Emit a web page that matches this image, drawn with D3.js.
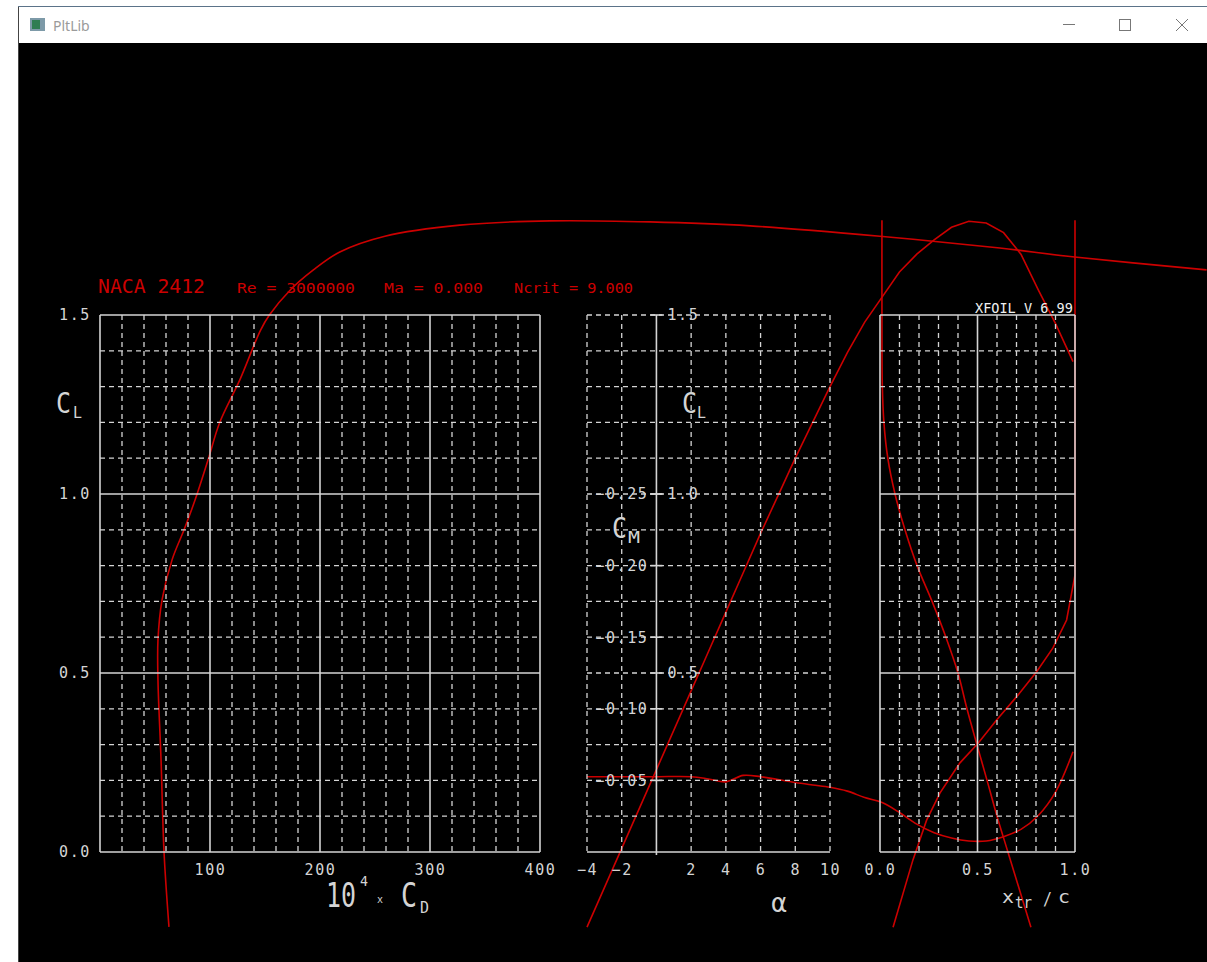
<!DOCTYPE html>
<html lang="en">
<head>
<meta charset="UTF-8">
<title>PltLib</title>
<style>
  body { margin: 0; background: #fff; }
  svg { display: block; }
  text { font-family: "DejaVu Sans Mono", monospace; }
</style>
</head>
<body>
<div id="plot"></div>
<script src="https://d3js.org/d3.v7.min.js"></script>
<script>
// drag polar: 10^4 x CD against CL
const polarCd = [62.7, 58.2, 55.5, 52.7, 52.7, 56.4, 65.5, 76.4, 86.4, 98.2, 109, 127, 146, 154, 173, 194, 218, 259, 327, 409, 500, 591, 709, 818, 886, 1006];
const polarCl = [-0.209, 0, 0.257, 0.48, 0.592, 0.704, 0.816, 0.9, 0.983, 1.095, 1.201, 1.318, 1.458, 1.5, 1.57, 1.626, 1.676, 1.72, 1.751, 1.763, 1.76, 1.749, 1.72, 1.687, 1.662, 1.626];

// lift and moment against alpha
const alphaDeg = [-4, -2, 0, 2, 3, 4, 5, 6, 7, 8, 9, 10, 11, 12, 13, 14, 15, 16, 17, 18, 19, 20, 21, 22, 23, 24];
const clAlpha = [-0.21, 0.01, 0.23, 0.45, 0.56, 0.67, 0.78, 0.89, 0.995, 1.10, 1.20, 1.30, 1.395, 1.48, 1.55, 1.62, 1.67, 1.71, 1.745, 1.762, 1.757, 1.73, 1.67, 1.57, 1.475, 1.37];
const cmAlpha = [-0.0526, -0.0526, -0.0526, -0.0526, -0.051, -0.049, -0.0535, -0.0526, -0.0506, -0.0485, -0.0468, -0.0452, -0.0425, -0.038, -0.0345, -0.0276, -0.0195, -0.0135, -0.0098, -0.0077, -0.0077, -0.0107, -0.0158, -0.0255, -0.042, -0.07];

// transition points, top and bottom surface
const xtrTopCl = [-0.21, 0, 0.1, 0.2, 0.3, 0.4, 0.5, 0.6, 0.7, 0.8, 0.9, 1.0, 1.1, 1.2, 1.3, 1.5, 1.765];
const xtrTop = [0.774, 0.656, 0.6, 0.549, 0.497, 0.446, 0.40, 0.338, 0.267, 0.19, 0.128, 0.077, 0.04, 0.02, 0.012, 0.01, 0.01];
const xtrBotCl = [-0.21, -0.022, 0.089, 0.165, 0.249, 0.304, 0.369, 0.434, 0.504, 0.57, 0.648, 0.774, 1.765];
const xtrBot = [0.067, 0.169, 0.239, 0.308, 0.41, 0.503, 0.598, 0.701, 0.804, 0.887, 0.957, 1.0, 1.0];

// tick labels
const cdTicks = [100, 200, 300, 400];
const clTicks = [0, 0.5, 1.0, 1.5];
const alphaTicks = [-4, -2, 2, 4, 6, 8, 10];
const clTicks2 = [0.5, 1.0, 1.5];
const cmTicks = [-0.25, -0.20, -0.15, -0.10, -0.05];
const xtrTicks = [0, 0.5, 1.0];

const W = 1207, H = 962;
const red = "#cc0000", grey = "#d4d4d4";

const svg = d3.select("#plot").append("svg")
    .attr("width", W).attr("height", H);

// window frame
svg.append("rect").attr("x", 19).attr("y", 6).attr("width", W - 19).attr("height", 37).attr("fill", "#fff");
svg.append("rect").attr("x", 19).attr("y", 43).attr("width", W - 19).attr("height", H - 43).attr("fill", "#000");
svg.append("line").attr("x1", 18.5).attr("x2", 18.5).attr("y1", 6).attr("y2", H).attr("stroke", "#444");
svg.append("line").attr("x1", 18).attr("x2", W).attr("y1", 6.5).attr("y2", 6.5).attr("stroke", "#5b7389");
svg.append("rect").attr("x", 30).attr("y", 18).attr("width", 15).attr("height", 13).attr("fill", "#7d9aa8");
svg.append("rect").attr("x", 32).attr("y", 20).attr("width", 8).attr("height", 9).attr("fill", "#2f7d52");
svg.append("text").attr("x", 53).attr("y", 31).text("PltLib")
    .style("font-family", "'Noto Sans', sans-serif").attr("font-size", 14).attr("fill", "#9a9a9a");
svg.append("line").attr("x1", 1063).attr("x2", 1075).attr("y1", 24.5).attr("y2", 24.5).attr("stroke", "#777");
svg.append("rect").attr("x", 1119.5).attr("y", 19.5).attr("width", 11).attr("height", 11).attr("fill", "none").attr("stroke", "#777");
svg.append("path").attr("d", "M1176,19L1188,31M1188,19L1176,31").attr("stroke", "#777");

// scales
const xCd = d3.scaleLinear().domain([0, 400]).range([100, 540]);
const yCl = d3.scaleLinear().domain([0, 1.5]).range([852, 315]);
const xA = d3.scaleLinear().domain([-4, 10]).range([587, 830]);
const yCm = d3.scaleLinear().domain([0, -0.25]).range([852, 494]);
const xTr = d3.scaleLinear().domain([0, 1]).range([880, 1075]);

// curves first, frames on top
const curves = svg.append("g").attr("fill", "none").attr("stroke", red).attr("stroke-width", 1.6);
const smooth = d3.curveCatmullRom.alpha(0.5);
curves.append("path").attr("d", d3.line().curve(smooth)
    .x((d, i) => xCd(polarCd[i])).y(d => yCl(d))(polarCl));
curves.append("path").attr("d", d3.line()
    .x((d, i) => xA(alphaDeg[i])).y(d => yCl(d))(clAlpha));
curves.append("path").attr("d", d3.line().curve(smooth)
    .x((d, i) => xA(alphaDeg[i])).y(d => yCm(d))(cmAlpha));
curves.append("path").attr("d", d3.line().curve(smooth)
    .x(d => xTr(d)).y((d, i) => yCl(xtrTopCl[i]))(xtrTop));
curves.append("path").attr("d", d3.line()
    .x(d => xTr(d)).y((d, i) => yCl(xtrBotCl[i]))(xtrBot));

const grid = svg.append("g").attr("fill", "none");
function vline(x, y1, y2, solid) {
    grid.append("line").attr("x1", x).attr("x2", x).attr("y1", y1).attr("y2", y2)
        .attr("stroke", grey).attr("stroke-width", solid ? 1.6 : 1.3)
        .attr("stroke-dasharray", solid ? null : "5,4");
}
function hline(y, x1, x2, solid) {
    grid.append("line").attr("x1", x1).attr("x2", x2).attr("y1", y).attr("y2", y)
        .attr("stroke", grey).attr("stroke-width", solid ? 1.6 : 1.3)
        .attr("stroke-dasharray", solid ? null : "5,4");
}
const major = (v, step) => Math.abs(v / step - Math.round(v / step)) < 1e-6;
const clGrid = d3.range(0, 16).map(i => i / 10);

// panel 1: CL vs CD
d3.range(0, 401, 20).forEach(v => vline(xCd(v), yCl(1.5), yCl(0), major(v, 100)));
clGrid.forEach(v => hline(yCl(v), xCd(0), xCd(400), major(v, 0.5)));

// panel 2: CL, CM vs alpha
d3.range(-4, 11, 2).forEach(v => vline(xA(v), yCl(1.5), yCl(0) + 3, v === 0));
clGrid.forEach(v => hline(yCl(v), xA(-4), xA(10), v === 0));
cmTicks.forEach(v => hline(yCm(v), xA(0) - 6, xA(0) + 6, true));
clTicks2.forEach(v => hline(yCl(v), xA(0) - 6, xA(0) + 6, true));

// panel 3: CL vs xtr
d3.range(0, 11).map(i => i / 10).forEach(v => vline(xTr(v), yCl(1.5), yCl(0), major(v, 0.5)));
clGrid.forEach(v => hline(yCl(v), xTr(0), xTr(1), major(v, 0.5)));

// axes with tick labels
function styleAxis(g) {
    g.select(".domain").remove();
    g.selectAll("text").attr("fill", grey).attr("font-size", 15)
        .style("letter-spacing", "1.6px").style("font-family", "'DejaVu Sans Mono', monospace");
}
svg.append("g").attr("transform", "translate(100,0)")
    .call(d3.axisLeft(yCl).tickValues(clTicks).tickFormat(d3.format(".1f")).tickSize(0).tickPadding(9))
    .call(styleAxis);
svg.append("g").attr("transform", "translate(0,852)")
    .call(d3.axisBottom(xCd).tickValues(cdTicks).tickSize(0).tickPadding(12))
    .call(styleAxis);
svg.append("g").attr("transform", "translate(0,852)")
    .call(d3.axisBottom(xA).tickValues(alphaTicks).tickFormat(d3.format("d")).tickSize(0).tickPadding(12))
    .call(styleAxis);
svg.append("g").attr("transform", "translate(" + xA(0) + ",0)")
    .call(d3.axisRight(yCl).tickValues(clTicks2).tickFormat(d3.format(".1f")).tickSize(0).tickPadding(11))
    .call(styleAxis);
svg.append("g").attr("transform", "translate(" + xA(0) + ",0)")
    .call(d3.axisLeft(yCm).tickValues(cmTicks).tickFormat(d3.format(".2f")).tickSize(0).tickPadding(8))
    .call(styleAxis);
svg.append("g").attr("transform", "translate(0,852)")
    .call(d3.axisBottom(xTr).tickValues(xtrTicks).tickFormat(d3.format(".1f")).tickSize(0).tickPadding(12))
    .call(styleAxis);

// axis titles; mono glyphs are 0.602 em wide, squeeze them to the wanted width
function label(x, y, s, size, opts) {
    opts = opts || {};
    const t = svg.append("text").text(s)
        .attr("font-size", size).attr("fill", opts.fill || grey);
    const sx = opts.len ? opts.len / (0.602 * size * s.length) : 1;
    t.attr("transform", "translate(" + x + "," + y + ") scale(" + sx + ",1)");
    if (opts.anchor) t.attr("text-anchor", opts.anchor);
    return t;
}
label(56, 413, "C", 28, {len: 15});
label(73, 418, "L", 16, {len: 9});
label(682, 413, "C", 28, {len: 15});
label(697, 418, "L", 16, {len: 9});
label(612, 538, "C", 28, {len: 15});
label(628, 543, "M", 16, {len: 12});
label(326, 907, "10", 33, {len: 30});
label(360, 886, "4", 14, {len: 8});
label(377, 903, "x", 10, {len: 6});
label(401, 907, "C", 33, {len: 16});
label(420, 913, "D", 15, {len: 9});
label(779, 912, "\u03b1", 26, {anchor: "middle"});
label(1002, 903, "x", 18, {len: 12});
label(1015, 908, "tr", 15, {len: 17});
label(1043, 905, "/", 18, {len: 9});
label(1058, 903, "c", 18, {len: 12});
label(975, 313, "XFOIL V 6.99", 14, {len: 98, fill: "#f0f0f0"});

// case title
label(98, 293, "NACA 2412", 19, {len: 107, fill: red});
label(237, 293, "Re = 3000000", 14, {len: 118, fill: red});
label(384, 293, "Ma = 0.000", 14, {len: 99, fill: red});
label(514, 293, "Ncrit = 9.000", 14, {len: 119, fill: red});
</script>
</body>
</html>
